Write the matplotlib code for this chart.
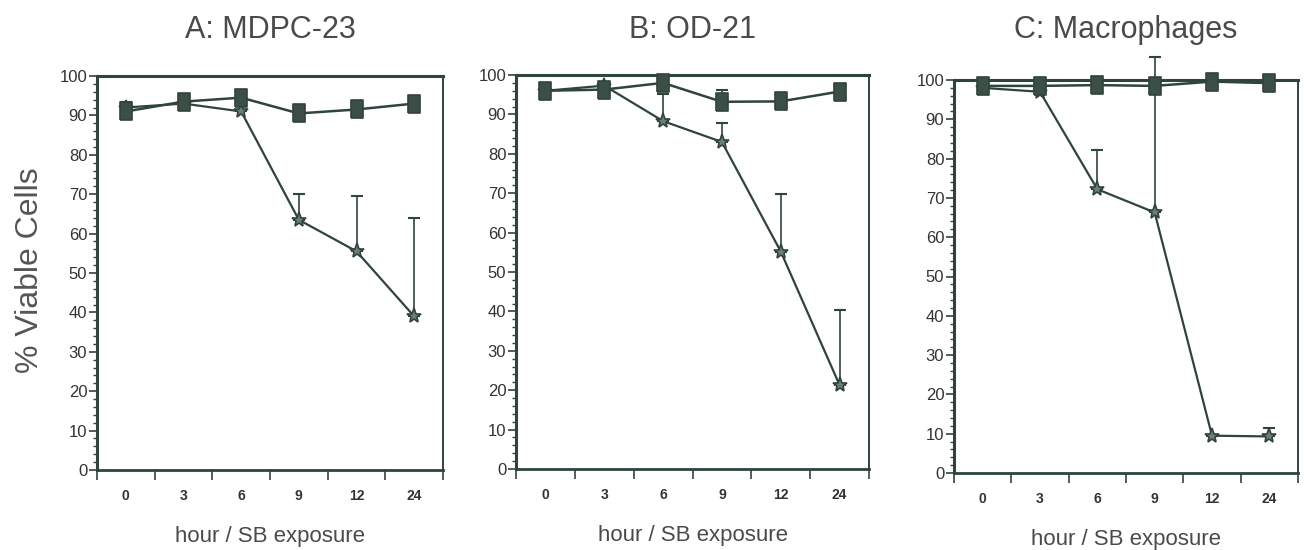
import matplotlib
matplotlib.use("Agg")
import matplotlib.pyplot as plt
import numpy as np

# categories on the x axis (hours of SB exposure)
hours = ["0", "3", "6", "9", "12", "24"]

titles = ["A: MDPC-23", "B: OD-21", "C: Macrophages"]

# control (square markers)
ctrl_A = [91, 93.5, 94.5, 90.5, 91.5, 93]
ctrl_B = [96, 96.3, 98, 93.2, 93.3, 95.8]
ctrl_C = [98.5, 98.5, 98.7, 98.5, 99.6, 99.2]
ctrl_err_A = [0, 0, 0, 0, 0, 0]
ctrl_err_B = [0, 0, 0, 3, 0, 0]
ctrl_err_C = [0, 0, 0, 0, 0, 0]

# SB treated (star markers), upper error only
sb_A = [92, 93, 91, 63.5, 55.5, 39]
sb_B = [96, 97.3, 88.3, 83, 55.2, 21.3]
sb_C = [98, 97, 72.2, 66.3, 9.5, 9.3]
sb_err_A = [1.5, 0, 0, 6.5, 14, 25]
sb_err_B = [0, 0, 7, 4.8, 14.5, 19]
sb_err_C = [0, 0, 10, 39.5, 0, 2.1]

ctrl = [ctrl_A, ctrl_B, ctrl_C]
ctrl_err = [ctrl_err_A, ctrl_err_B, ctrl_err_C]
sb = [sb_A, sb_B, sb_C]
sb_err = [sb_err_A, sb_err_B, sb_err_C]

INK = "#2f443b"
TXT = "#4a4a4a"
plt.rcParams["font.family"] = ["Liberation Sans", "DejaVu Sans"]

# tall rounded-ish box used for the control points
tall_box = [(-0.7, -1), (0.7, -1), (0.7, 1), (-0.7, 1), (-0.7, -1)]

W, H = 1304, 550
fig = plt.figure(figsize=(W / 100, H / 100), dpi=100)

# axes boxes in pixel coords: left, right, top(100), bottom(0)
boxes = [(97, 443, 76, 470), (516, 869, 75, 469), (954, 1298, 80, 473)]

x = np.arange(len(hours)) + 0.5

for i, (l, r, t, b) in enumerate(boxes):
    ax = fig.add_axes([l / W, 1 - b / H, (r - l) / W, (b - t) / H])
    ax.set_xlim(0, len(hours))
    ax.set_ylim(0, 100)

    ax.errorbar(x, sb[i], yerr=[np.zeros(len(hours)), sb_err[i]], fmt="none",
                ecolor=INK, elinewidth=1.2, capsize=4, capthick=1.5,
                clip_on=False, zorder=3)
    ax.errorbar(x, ctrl[i], yerr=[np.zeros(len(hours)), ctrl_err[i]], fmt="none",
                ecolor=INK, elinewidth=1.2, capsize=4, capthick=1.5,
                clip_on=False, zorder=3)
    ax.plot(x, sb[i], color=INK, lw=1.6, marker="*", ms=11,
            mfc="#6f7f77", mec=INK, mew=1.2, clip_on=False, zorder=4)
    ax.plot(x, ctrl[i], color=INK, lw=1.8, marker=tall_box, ms=13,
            mfc="#3b4f46", mec=INK, mew=1.2, clip_on=False, zorder=5)

    for s in ax.spines.values():
        s.set_color(INK)
        s.set_linewidth(1.4)
    ax.spines["top"].set_linewidth(2.2)
    ax.spines["left"].set_linewidth(2.2)
    ax.spines["bottom"].set_linewidth(2.0)

    ax.set_yticks(np.arange(0, 101, 10))
    ax.set_yticks(np.arange(0, 101, 2), minor=True)
    ax.tick_params(axis="y", which="major", direction="out", length=6,
                   width=1.2, color=INK, labelcolor="#333", labelsize=12, pad=1)
    ax.tick_params(axis="y", which="minor", direction="out", length=3,
                   width=1, color=INK)

    ax.set_xticks(np.arange(0, len(hours) + 1))
    ax.set_xticklabels([])
    ax.set_xticks(x, minor=True)
    ax.set_xticklabels(hours, minor=True)
    ax.tick_params(axis="x", which="major", direction="out", length=7,
                   width=1.2, color=INK)
    ax.tick_params(axis="x", which="minor", length=0, pad=14,
                   labelsize=10, labelcolor="#333")
    for lab in ax.get_xticklabels(minor=True):
        lab.set_fontweight("bold")

    ax.set_xlabel("hour / SB exposure", fontsize=16, color=TXT, labelpad=16)

    cx = (l + r) / 2 / W
    fig.text(cx, 1 - 30 / H, titles[i], ha="center", va="center",
             fontsize=22, color=TXT)

fig.text(30 / W, 1 - 270 / H, "% Viable Cells", rotation=90, ha="center",
         va="center", fontsize=23, color="#555")

fig.savefig("out.png", dpi=100, facecolor="white")
